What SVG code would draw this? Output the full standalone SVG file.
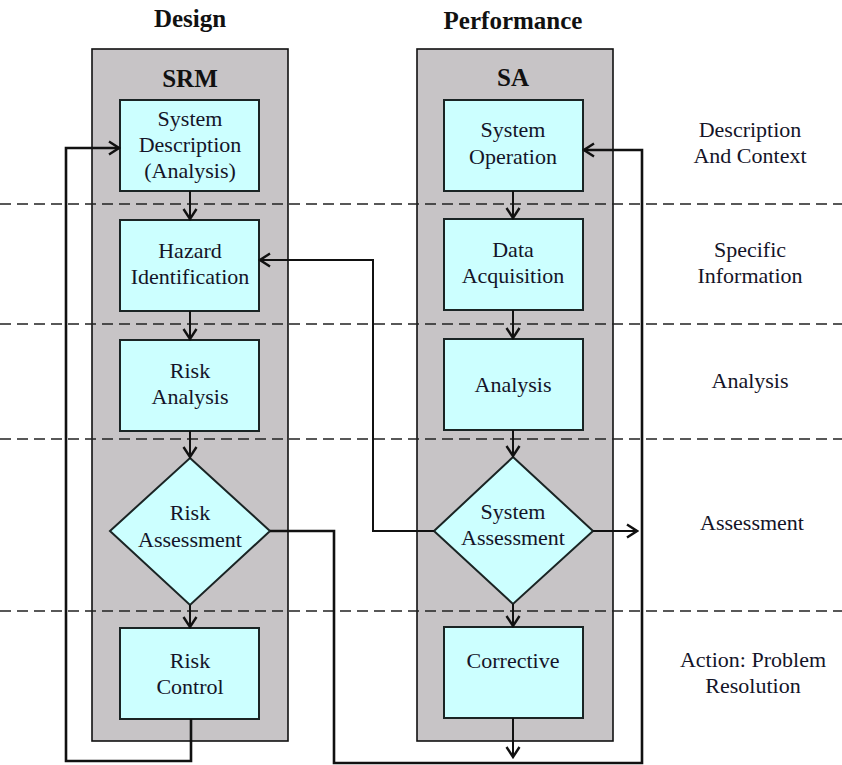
<svg xmlns="http://www.w3.org/2000/svg" width="842" height="765" viewBox="0 0 842 765">
<style>
.panel{fill:#c7c4c6;stroke:#111;stroke-width:1.6}
.box{fill:#ccffff;stroke:#1a2424;stroke-width:2}
.t{font-family:"Liberation Serif","Times New Roman",serif;font-size:22px;fill:#141428;text-anchor:middle}
.h{font-family:"Liberation Serif","Times New Roman",serif;font-size:25px;font-weight:bold;fill:#111;text-anchor:middle}
.dash{stroke:#222;stroke-width:1.5;stroke-dasharray:11 6;fill:none}
.c{fill:none;stroke:#111;stroke-width:2}
.cl{fill:none;stroke:#111;stroke-width:2.6}
</style>
<defs>
<marker id="ah" markerUnits="userSpaceOnUse" markerWidth="16" markerHeight="16" viewBox="0 0 16 16" refX="14" refY="8" orient="auto">
<path d="M4,1.5 L14,8 L4,14.5" fill="none" stroke="#111" stroke-width="2.4"/>
</marker>
</defs>
<rect width="842" height="765" fill="#fff"/>
<text class="h" x="190" y="27">Design</text>
<text class="h" x="513" y="29">Performance</text>
<g id="panel-srm">
<rect class="panel" x="92" y="49" width="196" height="692"/>
<text class="h" x="190" y="87">SRM</text>
</g>
<g id="panel-sa">
<rect class="panel" x="417" y="49" width="196" height="692"/>
<text class="h" x="513" y="86">SA</text>
</g>
<g id="lanes">
<line class="dash" x1="0" y1="204" x2="842" y2="204"/>
<line class="dash" x1="0" y1="324" x2="842" y2="324"/>
<line class="dash" x1="0" y1="439" x2="842" y2="439"/>
<line class="dash" x1="0" y1="611" x2="842" y2="611"/>
<text class="t" x="750" y="137">Description</text>
<text class="t" x="750" y="163">And Context</text>
<text class="t" x="750" y="257">Specific</text>
<text class="t" x="750" y="283">Information</text>
<text class="t" x="750" y="388">Analysis</text>
<text class="t" x="752" y="530">Assessment</text>
<text class="t" x="753" y="667">Action: Problem</text>
<text class="t" x="753" y="693">Resolution</text>
</g>
<g id="system-description">
<rect class="box" x="120" y="100" width="139" height="91"/>
<text class="t" x="190" y="126">System</text>
<text class="t" x="190" y="152">Description</text>
<text class="t" x="190" y="178">(Analysis)</text>
</g>
<g id="hazard-identification">
<rect class="box" x="120" y="220" width="139" height="91"/>
<text class="t" x="190" y="258">Hazard</text>
<text class="t" x="190" y="284">Identification</text>
</g>
<g id="risk-analysis">
<rect class="box" x="120" y="340" width="139" height="91"/>
<text class="t" x="190" y="378">Risk</text>
<text class="t" x="190" y="404">Analysis</text>
</g>
<g id="risk-assessment">
<polygon class="box" points="190,458 270,531 190,605 110,531"/>
<text class="t" x="190" y="520">Risk</text>
<text class="t" x="190" y="547">Assessment</text>
</g>
<g id="risk-control">
<rect class="box" x="120" y="628" width="139" height="91"/>
<text class="t" x="190" y="668">Risk</text>
<text class="t" x="190" y="694">Control</text>
</g>
<g id="system-operation">
<rect class="box" x="444" y="100" width="139" height="91"/>
<text class="t" x="513" y="137">System</text>
<text class="t" x="513" y="164">Operation</text>
</g>
<g id="data-acquisition">
<rect class="box" x="444" y="219" width="139" height="91"/>
<text class="t" x="513" y="257">Data</text>
<text class="t" x="513" y="283">Acquisition</text>
</g>
<g id="analysis">
<rect class="box" x="444" y="339" width="139" height="91"/>
<text class="t" x="513" y="392">Analysis</text>
</g>
<g id="system-assessment">
<polygon class="box" points="513,457 593,531 513,604 434,531"/>
<text class="t" x="513" y="519">System</text>
<text class="t" x="513" y="545">Assessment</text>
</g>
<g id="corrective">
<rect class="box" x="444" y="627" width="139" height="91"/>
<text class="t" x="513" y="668">Corrective</text>
</g>
<g id="connectors">
<line class="c" x1="190" y1="191" x2="190" y2="219" marker-end="url(#ah)"/>
<line class="c" x1="190" y1="311" x2="190" y2="339" marker-end="url(#ah)"/>
<line class="c" x1="190" y1="431" x2="190" y2="457" marker-end="url(#ah)"/>
<line class="c" x1="190" y1="605" x2="190" y2="627" marker-end="url(#ah)"/>
<line class="c" x1="513" y1="191" x2="513" y2="218" marker-end="url(#ah)"/>
<line class="c" x1="513" y1="310" x2="513" y2="338" marker-end="url(#ah)"/>
<line class="c" x1="513" y1="430" x2="513" y2="456" marker-end="url(#ah)"/>
<line class="c" x1="513" y1="604" x2="513" y2="626" marker-end="url(#ah)"/>
<line class="c" x1="513" y1="718" x2="513" y2="757" marker-end="url(#ah)"/>
<polyline class="cl" points="191,719 191,761 66,761 66,148 119,148" marker-end="url(#ah)"/>
<polyline class="cl" points="270,531 334,531 334,763 642,763 642,150 584,150" marker-end="url(#ah)"/>
<polyline class="c" points="434,531 373,531 373,260 260,260" marker-end="url(#ah)"/>
<line class="c" x1="593" y1="531" x2="637" y2="531" marker-end="url(#ah)"/>
</g>
</svg>
